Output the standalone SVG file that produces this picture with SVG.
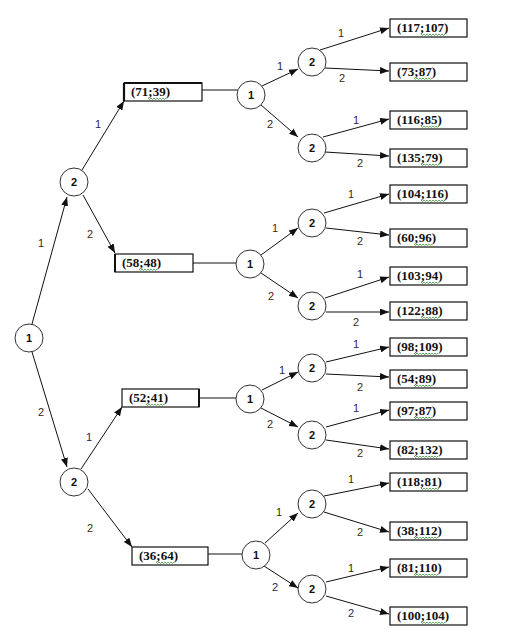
<svg xmlns="http://www.w3.org/2000/svg" xmlns:xlink="http://www.w3.org/1999/xlink" width="506" height="638" viewBox="0 0 506 638">
<style>
.c{fill:#fff;stroke:#333;stroke-width:1}
.ct{font-family:"Liberation Sans",Arial,sans-serif;font-size:11px;font-weight:bold;fill:#111;text-anchor:middle}
.b{fill:#fff;stroke:#111;stroke-width:1.2}
.bt{font-family:"Liberation Serif","Times New Roman",serif;font-size:13px;font-weight:bold;fill:#111}
.e{stroke:#111;stroke-width:1;fill:none;marker-end:url(#ah)}
.ln{stroke:#111;stroke-width:1;fill:none}
.l{font-family:"Liberation Sans",Arial,sans-serif;font-size:11px;text-anchor:middle}
.n{fill:#1f1f5a}
.r{fill:#3a2810}
.sq{stroke:#3a9a3a;stroke-width:0.8;fill:none}
</style>
<defs>
<marker id="ah" markerWidth="9" markerHeight="7" refX="9" refY="3.5" orient="auto" markerUnits="userSpaceOnUse"><path d="M0,0 L9,3.5 L0,7 Z" fill="#111"/></marker>
<path id="sq2" class="sq" d="M0,0 l1.5,1.5 l1.5,-1.5 l1.5,1.5 l1.5,-1.5 l1.5,1.5 l1.5,-1.5 l1.5,1.5 l1.5,-1.5 l1.5,1.5 l1.5,-1.5 l1.5,1.5 l1.5,-1.5"/>
<path id="sq3" class="sq" d="M0,0 l1.5,1.5 l1.5,-1.5 l1.5,1.5 l1.5,-1.5 l1.5,1.5 l1.5,-1.5 l1.5,1.5 l1.5,-1.5 l1.5,1.5 l1.5,-1.5 l1.5,1.5 l1.5,-1.5 l1.5,1.5 l1.5,-1.5 l1.5,1.5 l1.5,-1.5"/>
</defs>

<g id="connectors">
<path class="e" d="M32,324 L67,197"/>
<path class="e" d="M32,352 L67,467"/>
<path class="e" d="M82,170 L124,101"/>
<path class="e" d="M83,195 L115,253"/>
<path class="e" d="M81,469 L122,407"/>
<path class="e" d="M88,489 L132,547"/>
<path class="ln" d="M202,90 L238,90"/>
<path class="ln" d="M193,263 L236,263"/>
<path class="ln" d="M199,398 L236,398"/>
<path class="ln" d="M208,554 L242,554"/>
<path class="e" d="M262,86 L298,69"/>
<path class="e" d="M261,105 L298,137"/>
<path class="e" d="M320,50 L389,28"/>
<path class="e" d="M325,68 L389,71"/>
<path class="e" d="M323,137 L389,119"/>
<path class="e" d="M325,152 L389,156"/>
<path class="e" d="M261,255 L298,228"/>
<path class="e" d="M261,273 L298,298"/>
<path class="e" d="M324,213 L389,194"/>
<path class="e" d="M326,228 L389,235"/>
<path class="e" d="M325,298 L389,277"/>
<path class="e" d="M326,312 L389,312"/>
<path class="e" d="M262,390 L298,372"/>
<path class="e" d="M261,408 L298,427"/>
<path class="e" d="M326,362 L389,347"/>
<path class="e" d="M326,374 L389,377"/>
<path class="e" d="M326,427 L389,410"/>
<path class="e" d="M326,440 L389,449"/>
<path class="e" d="M265,543 L298,513"/>
<path class="e" d="M264,566 L298,588"/>
<path class="e" d="M324,496 L389,483"/>
<path class="e" d="M324,512 L389,532"/>
<path class="e" d="M326,582 L389,567"/>
<path class="e" d="M326,596 L389,614"/>
</g>

<g id="edge-labels">
<text class="l r" x="41" y="247">1</text>
<text class="l r" x="41" y="416">2</text>
<text class="l n" x="98" y="128">1</text>
<text class="l r" x="90" y="238">2</text>
<text class="l n" x="89" y="441">1</text>
<text class="l r" x="90" y="532">2</text>
<text class="l n" x="280" y="70">1</text>
<text class="l r" x="270" y="128">2</text>
<text class="l r" x="341" y="37">1</text>
<text class="l r" x="342" y="82">2</text>
<text class="l n" x="356" y="124">1</text>
<text class="l r" x="360" y="167">2</text>
<text class="l r" x="275" y="232">1</text>
<text class="l r" x="271" y="300">2</text>
<text class="l r" x="351" y="198">1</text>
<text class="l r" x="360" y="245">2</text>
<text class="l n" x="360" y="278">1</text>
<text class="l r" x="356" y="326">2</text>
<text class="l n" x="282" y="374">1</text>
<text class="l r" x="270" y="428">2</text>
<text class="l n" x="356" y="348">1</text>
<text class="l r" x="360" y="391">2</text>
<text class="l n" x="356" y="412">1</text>
<text class="l r" x="360" y="457">2</text>
<text class="l r" x="279" y="516">1</text>
<text class="l n" x="275" y="591">2</text>
<text class="l r" x="351" y="483">1</text>
<text class="l r" x="360" y="536">2</text>
<text class="l r" x="351" y="572">1</text>
<text class="l n" x="351" y="617">2</text>
</g>

<g id="root"><circle class="c" cx="29" cy="338" r="14"/><text class="ct" x="29" y="342">1</text></g>
<g id="p2-up"><circle class="c" cx="74" cy="182" r="14"/><text class="ct" x="74" y="186">2</text></g>
<g id="p2-down"><circle class="c" cx="74" cy="482" r="14"/><text class="ct" x="74" y="486">2</text></g>

<g id="box-71-39"><rect class="b" x="124" y="83" width="78" height="18"/><path d="M124,83 L124,101 M124,83 L202,83" stroke="#111" stroke-width="2.2"/><text class="bt" x="131" y="96">(71;39)</text><use href="#sq2" x="148" y="98"/></g>
<g id="box-58-48"><rect class="b" x="115" y="254" width="78" height="18"/><path d="M115,254 L115,272" stroke="#111" stroke-width="2"/><text class="bt" x="122" y="267">(58;48)</text><use href="#sq2" x="139" y="269"/></g>
<g id="box-52-41"><rect class="b" x="122" y="389" width="77" height="18"/><path d="M199,389 L199,407" stroke="#111" stroke-width="2"/><text class="bt" x="129" y="402">(52;41)</text><use href="#sq2" x="146" y="404"/></g>
<g id="box-36-64"><rect class="b" x="132" y="547" width="76" height="18"/><text class="bt" x="139" y="560">(36;64)</text><use href="#sq2" x="156" y="562"/></g>

<g id="g1-p1"><circle class="c" cx="251" cy="95" r="14"/><text class="ct" x="251" y="99">1</text></g>
<g id="g1-p2a"><circle class="c" cx="312" cy="62" r="14"/><text class="ct" x="312" y="66">2</text></g>
<g id="g1-p2b"><circle class="c" cx="312" cy="148" r="14"/><text class="ct" x="312" y="152">2</text></g>
<g id="g2-p1"><circle class="c" cx="250" cy="264" r="14"/><text class="ct" x="250" y="268">1</text></g>
<g id="g2-p2a"><circle class="c" cx="312" cy="223" r="14"/><text class="ct" x="312" y="227">2</text></g>
<g id="g2-p2b"><circle class="c" cx="312" cy="306" r="14"/><text class="ct" x="312" y="310">2</text></g>
<g id="g3-p1"><circle class="c" cx="250" cy="399" r="14"/><text class="ct" x="250" y="403">1</text></g>
<g id="g3-p2a"><circle class="c" cx="312" cy="368" r="14"/><text class="ct" x="312" y="372">2</text></g>
<g id="g3-p2b"><circle class="c" cx="312" cy="435" r="14"/><text class="ct" x="312" y="439">2</text></g>
<g id="g4-p1"><circle class="c" cx="256" cy="555" r="14"/><text class="ct" x="256" y="559">1</text></g>
<g id="g4-p2a"><circle class="c" cx="312" cy="504" r="14"/><text class="ct" x="312" y="508">2</text></g>
<g id="g4-p2b"><circle class="c" cx="312" cy="589" r="14"/><text class="ct" x="312" y="593">2</text></g>

<g id="leaf-117-107"><rect class="b" x="390" y="19" width="77" height="18"/><text class="bt" x="397" y="32">(117;107)</text><use href="#sq3" x="421" y="34"/></g>
<g id="leaf-73-87"><rect class="b" x="390" y="63" width="77" height="18"/><text class="bt" x="397" y="76">(73;87)</text><use href="#sq2" x="414" y="78"/></g>
<g id="leaf-116-85"><rect class="b" x="390" y="111" width="77" height="18"/><text class="bt" x="397" y="124">(116;85)</text><use href="#sq2" x="421" y="126"/></g>
<g id="leaf-135-79"><rect class="b" x="390" y="149" width="77" height="18"/><text class="bt" x="397" y="162">(135;79)</text><use href="#sq2" x="421" y="164"/></g>
<g id="leaf-104-116"><rect class="b" x="390" y="185" width="77" height="18"/><text class="bt" x="397" y="198">(104;116)</text><use href="#sq3" x="421" y="200"/></g>
<g id="leaf-60-96"><rect class="b" x="390" y="229" width="77" height="18"/><text class="bt" x="397" y="242">(60;96)</text><use href="#sq2" x="414" y="244"/></g>
<g id="leaf-103-94"><rect class="b" x="390" y="267" width="77" height="18"/><text class="bt" x="397" y="280">(103;94)</text><use href="#sq2" x="421" y="282"/></g>
<g id="leaf-122-88"><rect class="b" x="390" y="302" width="77" height="18"/><text class="bt" x="397" y="315">(122;88)</text><use href="#sq2" x="421" y="317"/></g>
<g id="leaf-98-109"><rect class="b" x="390" y="338" width="77" height="18"/><text class="bt" x="397" y="351">(98;109)</text><use href="#sq3" x="414" y="353"/></g>
<g id="leaf-54-89"><rect class="b" x="390" y="370" width="77" height="18"/><text class="bt" x="397" y="383">(54;89)</text><use href="#sq2" x="414" y="385"/></g>
<g id="leaf-97-87"><rect class="b" x="390" y="402" width="77" height="18"/><text class="bt" x="397" y="415">(97;87)</text><use href="#sq2" x="414" y="417"/></g>
<g id="leaf-82-132"><rect class="b" x="390" y="441" width="77" height="18"/><text class="bt" x="397" y="454">(82;132)</text><use href="#sq3" x="414" y="456"/></g>
<g id="leaf-118-81"><rect class="b" x="390" y="473" width="77" height="18"/><text class="bt" x="397" y="486">(118;81)</text><use href="#sq2" x="421" y="488"/></g>
<g id="leaf-38-112"><rect class="b" x="390" y="522" width="77" height="18"/><text class="bt" x="397" y="535">(38;112)</text><use href="#sq3" x="414" y="537"/></g>
<g id="leaf-81-110"><rect class="b" x="390" y="559" width="77" height="18"/><text class="bt" x="397" y="572">(81;110)</text><use href="#sq3" x="414" y="574"/></g>
<g id="leaf-100-104"><rect class="b" x="390" y="607" width="77" height="18"/><text class="bt" x="397" y="620">(100;104)</text><use href="#sq3" x="421" y="622"/></g>
</svg>
